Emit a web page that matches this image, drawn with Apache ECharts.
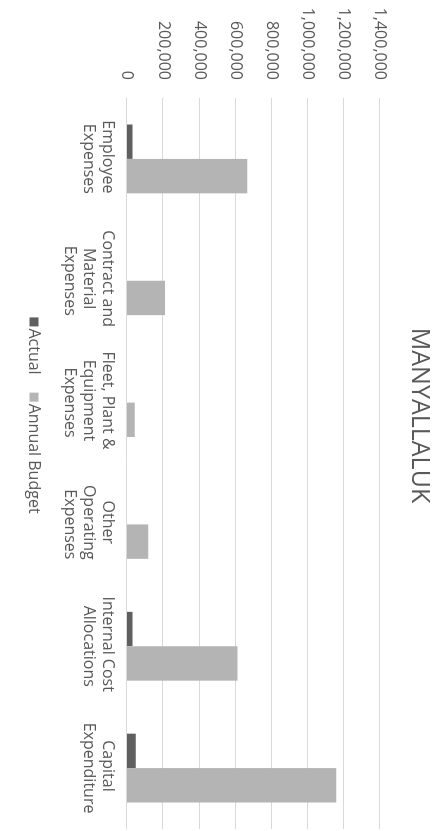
<!DOCTYPE html>
<html>
<head>
<meta charset="utf-8">
<script src="https://cdn.jsdelivr.net/npm/echarts@6/dist/echarts.min.js"></script>
<style>
  html, body { margin: 0; padding: 0; background: #fff; overflow: hidden; }
  /* chart is laid out landscape and turned a quarter clockwise onto the portrait page */
  #chart {
    position: absolute; left: 0; top: 0;
    width: 831px; height: 439px;
    transform-origin: 0 0;
    transform: translateX(439px) rotate(90deg);
  }
</style>
</head>
<body>
<div id="chart"></div>
<script>
const title = 'MANYALLALUK';
const categories = [
  'Employee Expenses',
  'Contract and Material Expenses',
  'Fleet, Plant & Equipment Expenses',
  'Other Operating Expenses',
  'Internal Cost Allocations',
  'Capital Expenditure'
];
const actual = [30000, 0, 0, 0, 31000, 48000];
const annualBudget = [665000, 210000, 43000, 118000, 611000, 1158000];
const valueTicks = [0, 200000, 400000, 600000, 800000, 1000000, 1200000, 1400000];

const textColor = '#595959';
const font = 'Open Sans';

const chart = echarts.init(document.getElementById('chart'), null, { renderer: 'canvas' });
chart.setOption({
  animation: false,
  backgroundColor: '#fff',
  title: {
    text: title,
    left: 'center',
    top: 2,
    textStyle: { fontFamily: font, fontSize: 25, fontWeight: 'normal', color: textColor }
  },
  legend: {
    data: ['Actual', 'Annual Budget'],
    left: 'center',
    top: 392,
    itemWidth: 9,
    itemHeight: 9,
    itemGap: 18,
    icon: 'rect',
    textStyle: { fontFamily: font, fontSize: 16, color: textColor, padding: [0, 0, 0, -3] }
  },
  grid: { left: 98, right: 2, top: 59, bottom: 127, containLabel: false },
  xAxis: {
    type: 'category',
    data: categories,
    axisTick: { show: false },
    axisLine: { show: true, lineStyle: { color: '#d9d9d9', width: 1 } },
    axisLabel: {
      interval: 0,
      margin: 10,
      width: 112,
      overflow: 'break',
      lineHeight: 19,
      fontFamily: font,
      fontSize: 16,
      color: textColor
    }
  },
  yAxis: {
    type: 'value',
    min: valueTicks[0],
    max: valueTicks[valueTicks.length - 1],
    interval: valueTicks[1] - valueTicks[0],
    axisLine: { show: false },
    axisTick: { show: false },
    splitLine: { lineStyle: { color: '#d9d9d9', width: 1 } },
    axisLabel: {
      margin: 18,
      fontFamily: font,
      fontSize: 16,
      color: textColor,
      formatter: v => v.toLocaleString('en-US')
    }
  },
  series: [
    {
      name: 'Actual',
      type: 'bar',
      data: actual,
      barGap: '0%',
      barCategoryGap: '43.5%',
      itemStyle: { color: '#5f5f5f' }
    },
    {
      name: 'Annual Budget',
      type: 'bar',
      data: annualBudget,
      barGap: '0%',
      barCategoryGap: '43.5%',
      itemStyle: { color: '#b4b4b4' }
    }
  ]
});
</script>
</body>
</html>
